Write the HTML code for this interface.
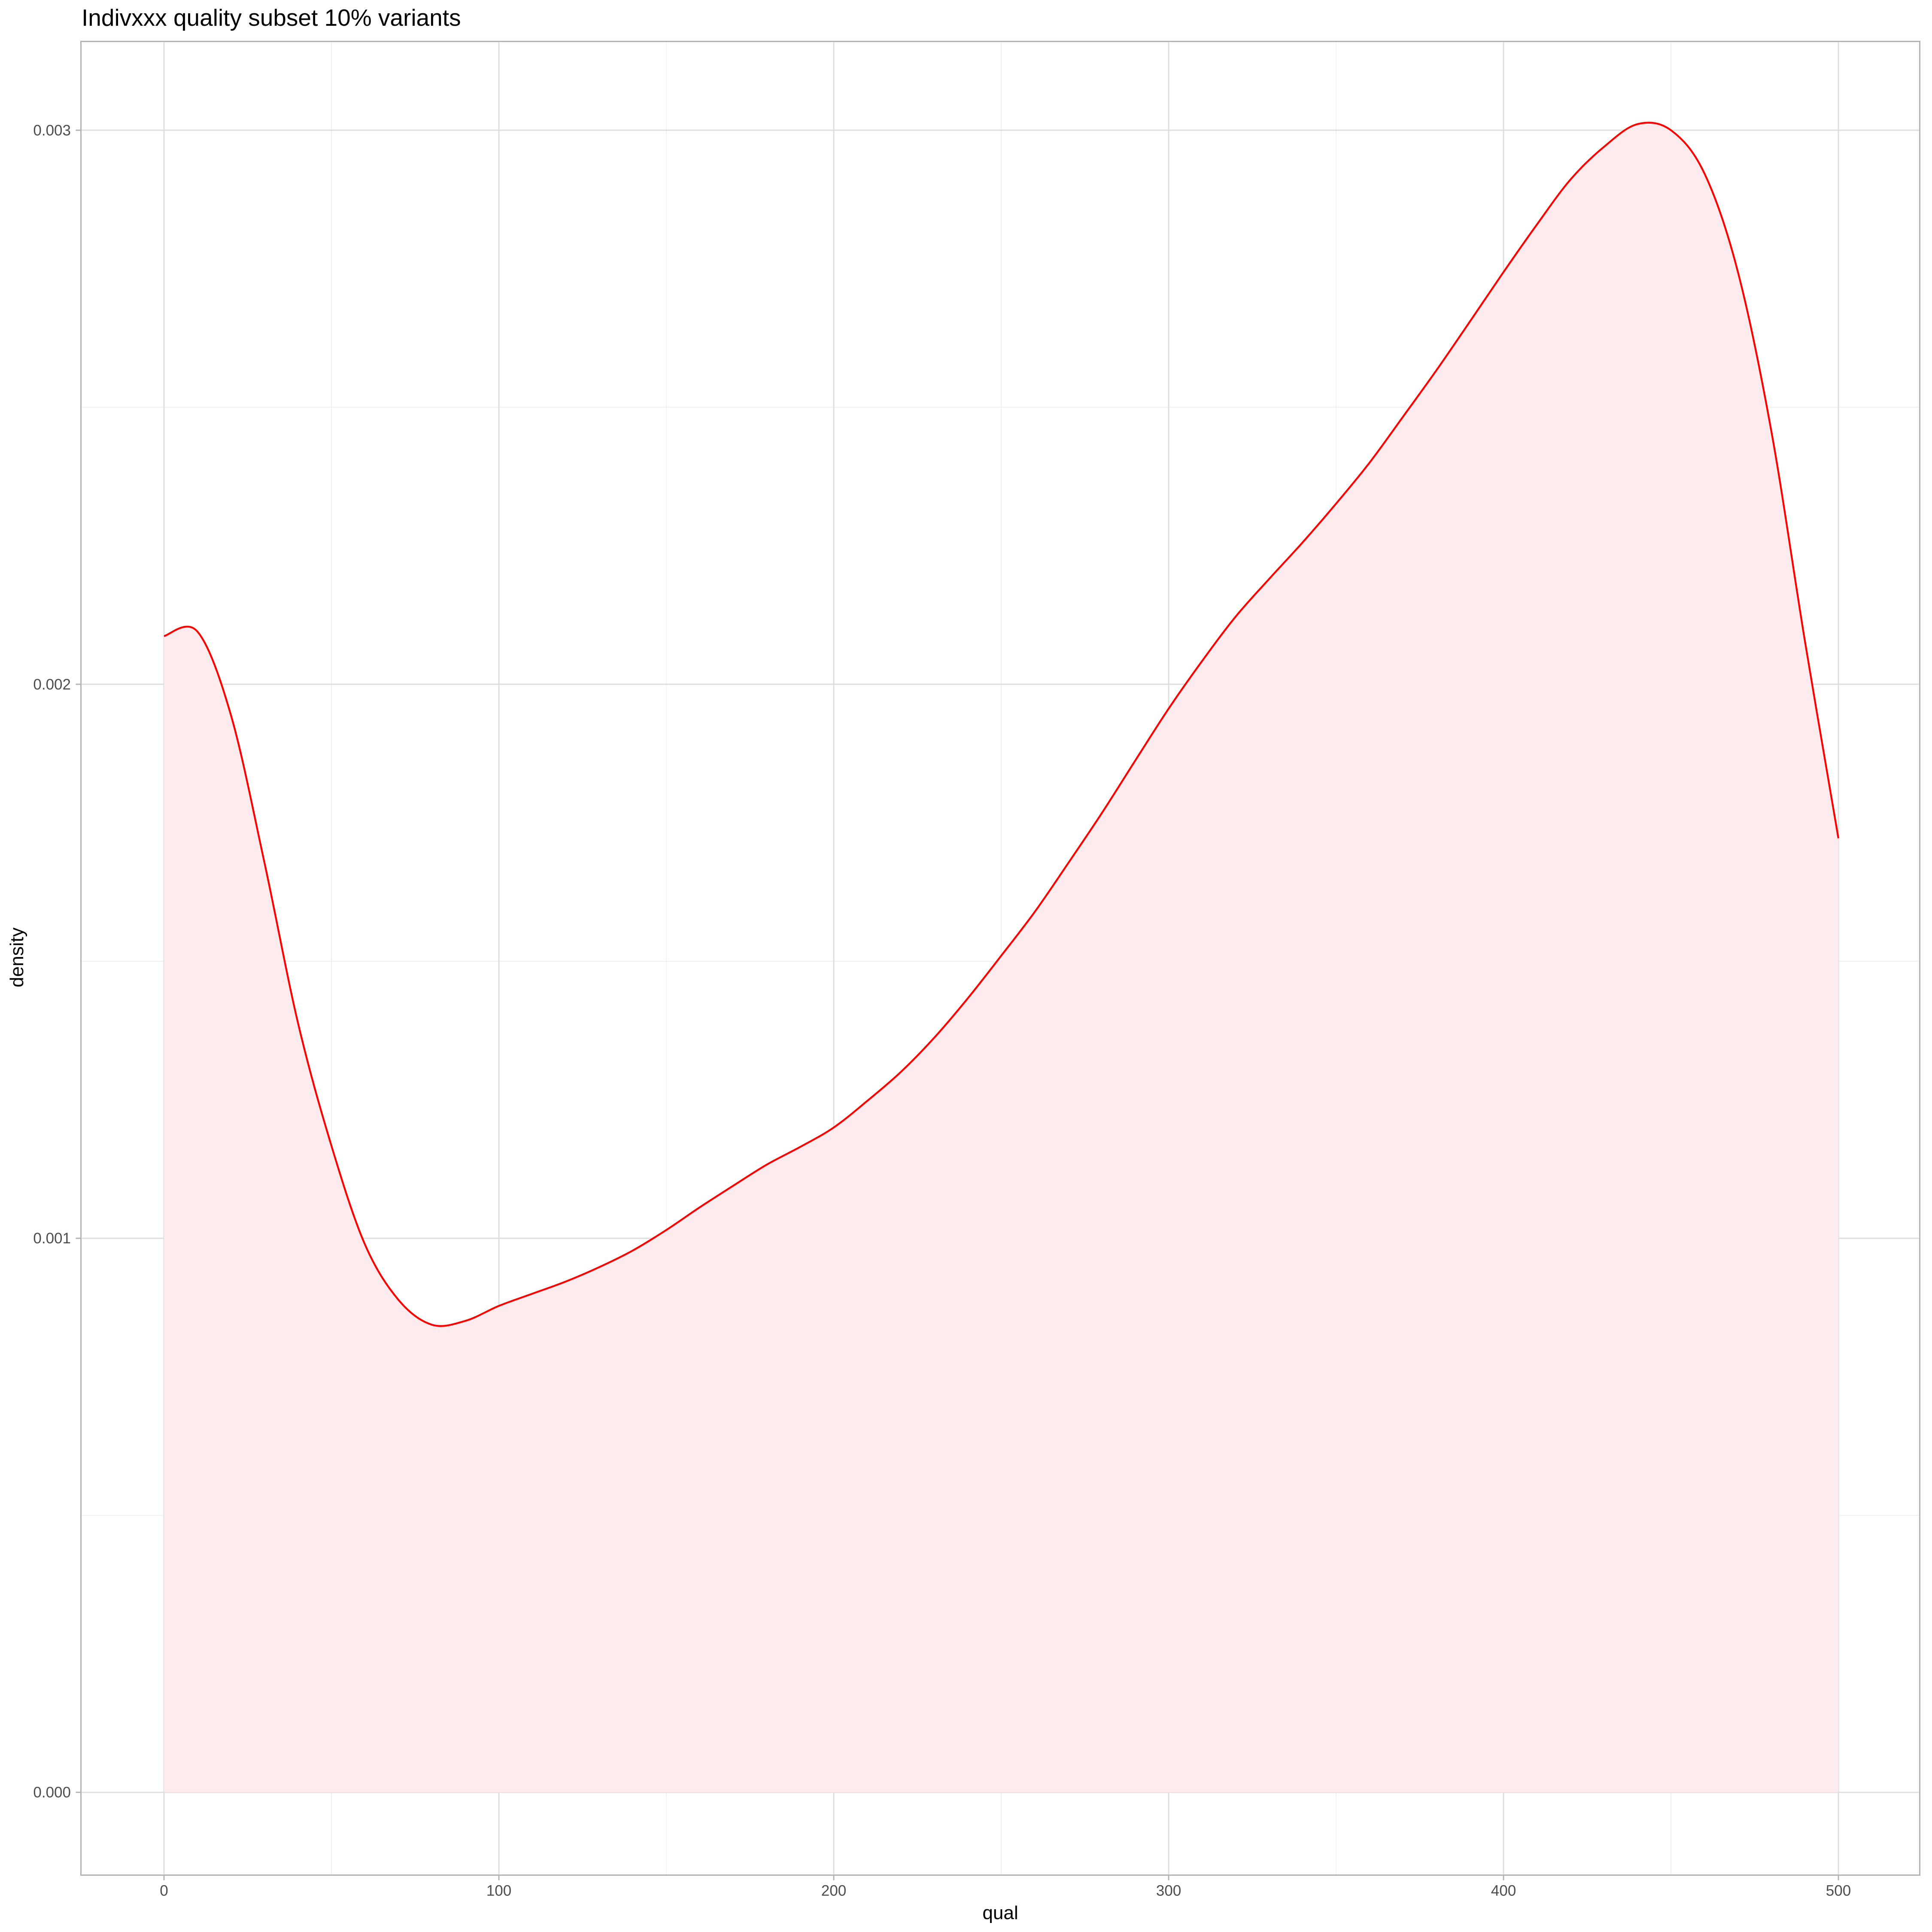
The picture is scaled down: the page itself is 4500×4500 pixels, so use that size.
<!DOCTYPE html>
<html><head><meta charset="utf-8"><style>
html,body{margin:0;padding:0;background:#fff;}
svg{display:block;font-family:"Liberation Sans",sans-serif;}
</style></head><body>
<svg id="chart" width="4500" height="4500" viewBox="0 0 4500 4500">
<text x="190" y="60" font-size="55" fill="#000">Indivxxx quality subset 10% variants</text>
<g id="grid"></g>
<path id="area" fill="#feebee" stroke="none"></path>
<path id="line" fill="none" stroke="#ff0000" stroke-width="4.3"></path>
<rect x="188.5" y="96.5" width="4283" height="4271" fill="none" stroke="#b3b3b3" stroke-width="3"></rect>
<g id="axes"></g>
<text x="2330" y="4470" font-size="44" text-anchor="middle" fill="#000">qual</text>
<text x="0" y="0" font-size="44" text-anchor="middle" fill="#000" transform="translate(54,2230) rotate(-90)">density</text>
</svg>
<script>
const qual = [0,10,20,30,40,50,60,70,80,90,100,110,120,130,140,150,160,170,180,190,200,210,220,230,240,250,260,270,280,290,300,310,320,330,340,350,360,370,380,390,400,410,420,430,440,450,460,470,480,490,500];
const density = [0.002087,0.002095,0.001944,0.001678,0.001389,0.001167,0.000989,0.000889,0.000844,0.000851,0.000878,0.0009,0.000922,0.000948,0.000978,0.001015,0.001056,0.001095,0.001133,0.001165,0.0012,0.001248,0.0013,0.001362,0.001433,0.00151,0.001589,0.001677,0.001767,0.001862,0.001956,0.002042,0.002122,0.00219,0.002256,0.002326,0.0024,0.002483,0.002567,0.002655,0.002744,0.00283,0.002911,0.00297,0.003011,0.003,0.002922,0.002744,0.002456,0.002078,0.001722];
const xTicks = [0,100,200,300,400,500];
const xTickLabels = ["0","100","200","300","400","500"];
const yTicks = [0,0.001,0.002,0.003];
const yTickLabels = ["0.000","0.001","0.002","0.003"];
const xMinor = [50,150,250,350,450];
const yMinor = [0.0005,0.0015,0.0025];

const NS="http://www.w3.org/2000/svg";
const X = v => 382 + v*7.8;
const Y = v => 4174.7 - v*1290467;
const L=188.5,R=4471.5,T=96.5,B=4367.5;
const grid=document.getElementById('grid'), axes=document.getElementById('axes');
function ln(g,x1,y1,x2,y2,c,w){const e=document.createElementNS(NS,'line');e.setAttribute('x1',x1);e.setAttribute('y1',y1);e.setAttribute('x2',x2);e.setAttribute('y2',y2);e.setAttribute('stroke',c);e.setAttribute('stroke-width',w);g.appendChild(e);return e;}
function tx(g,x,y,s,anchor){const e=document.createElementNS(NS,'text');e.setAttribute('x',x);e.setAttribute('y',y);e.setAttribute('font-size','35');e.setAttribute('fill','#4d4d4d');e.setAttribute('text-anchor',anchor);e.textContent=s;g.appendChild(e);return e;}
xMinor.forEach(v=>{const e=ln(grid,X(v),T,X(v),B,'#ebebeb',1.5);

});
yMinor.forEach(v=>{const e=ln(grid,L,Y(v),R,Y(v),'#ebebeb',1.5);

});
xTicks.forEach((v,i)=>{const e=ln(grid,X(v),T,X(v),B,'#dedede',3);


const t=ln(axes,X(v),B,X(v),B+12,'#b3b3b3',3);


const l=tx(axes,X(v),B+48,xTickLabels[i],'middle');

});
yTicks.forEach((v,i)=>{const e=ln(grid,L,Y(v),R,Y(v),'#dedede',3);


const t=ln(axes,L-12,Y(v),L,Y(v),'#b3b3b3',3);


const l=tx(axes,165,Y(v)+12,yTickLabels[i],'end');

});
const pts=qual.map((q,i)=>[X(q),Y(density[i])]);
let d=`M${pts[0][0]},${pts[0][1]}`;
for(let i=0;i<pts.length-1;i++){
 const p0=pts[Math.max(0,i-1)],p1=pts[i],p2=pts[i+1],p3=pts[Math.min(pts.length-1,i+2)];
 const c1=[p1[0]+(p2[0]-p0[0])/6,p1[1]+(p2[1]-p0[1])/6];
 const c2=[p2[0]-(p3[0]-p1[0])/6,p2[1]-(p3[1]-p1[1])/6];
 d+=` C${c1[0]},${c1[1]} ${c2[0]},${c2[1]} ${p2[0]},${p2[1]}`;
}
document.getElementById('line').setAttribute('d',d);
const last=pts[pts.length-1];
document.getElementById('area').setAttribute('d',d+` L${last[0]},${Y(0)} L${pts[0][0]},${Y(0)} Z`);
</script>
</body></html>
